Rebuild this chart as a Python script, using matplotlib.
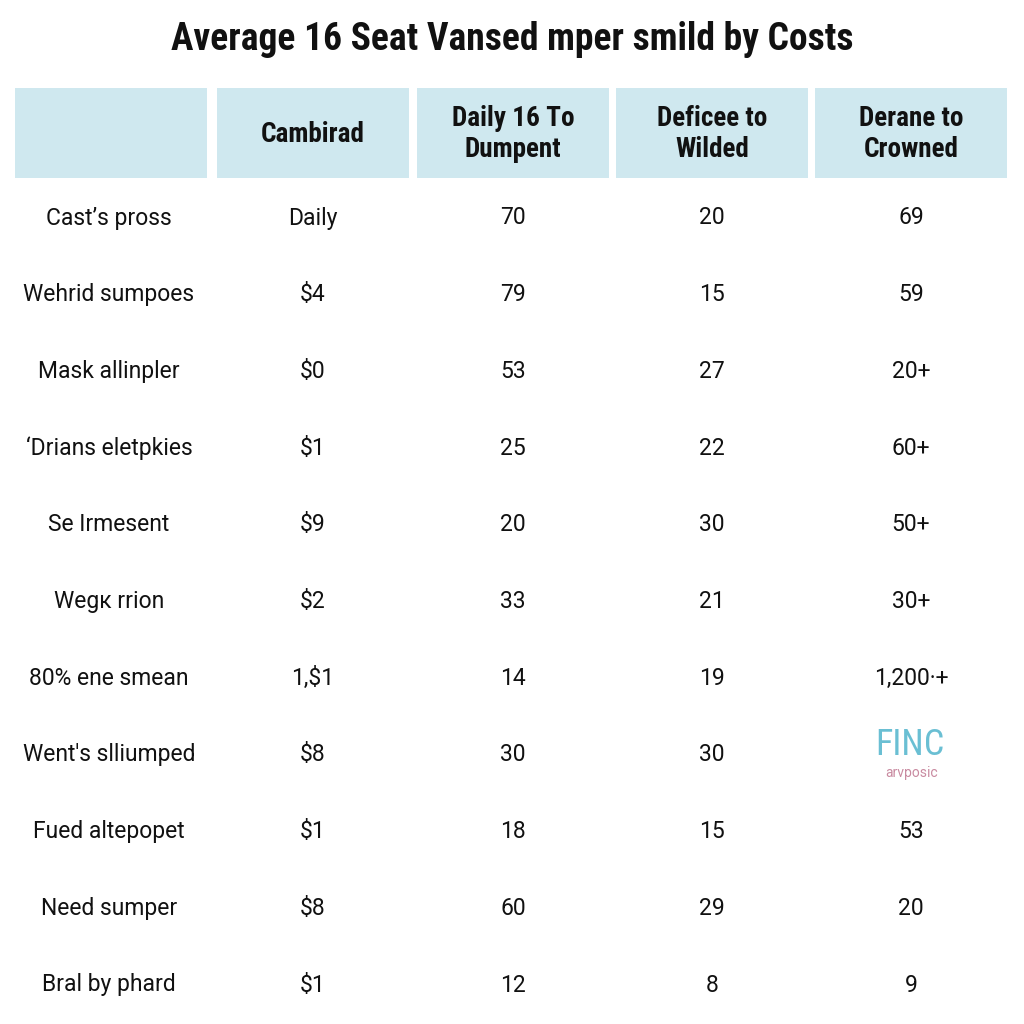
import matplotlib
matplotlib.use("Agg")
import matplotlib.pyplot as plt
from matplotlib.patches import Rectangle

title = "Average 16 Seat Vansed mper smild by Costs"

headers = ["", "Cambirad", "Daily 16 To\nDumpent", "Deficee to\nWilded", "Derane to\nCrowned"]

row_labels = ["Cast\u2019s pross", "Wehrid sumpoes", "Mask allinpler", "\u2018Drians eletpkies",
              "Se Irmesent", "Wegк rrion", "80% ene smean", "Went's slliumped",
              "Fued altepopet", "Need sumper", "Bral by phard"]
cambirad = ["Daily", "$4", "$0", "$1", "$9", "$2", "1,$1", "$8", "$1", "$8", "$1"]
dumpent = ["70", "79", "53", "25", "20", "33", "14", "30", "18", "60", "12"]
wilded = ["20", "15", "27", "22", "30", "21", "19", "30", "15", "29", "8"]
crowned = ["69", "59", "20+", "60+", "50+", "30+", "1,200\u00b7+", "", "53", "20", "9"]

columns = [row_labels, cambirad, dumpent, wilded, crowned]

# layout in pixels
col_left = [15, 217, 417, 616, 815]
col_width = 192
header_top, header_h = 88, 90
first_row_y, row_step = 218, 76.7

fig = plt.figure(figsize=(10.24, 10.24), dpi=100)
ax = fig.add_axes([0, 0, 1, 1])
ax.set_xlim(0, 1024)
ax.set_ylim(1024, 0)
ax.axis("off")

body_font = ["Roboto", "DejaVu Sans"]
head_font = ["Liberation Sans Narrow", "Roboto Condensed", "Roboto", "DejaVu Sans"]

ax.text(512, 39, title, ha="center", va="center", fontsize=27, fontweight="bold",
        family=head_font, color="#111111")

for left, head in zip(col_left, headers):
    ax.add_patch(Rectangle((left, header_top), col_width, header_h,
                           facecolor="#cfe8ef", edgecolor="none"))
    ax.text(left + col_width / 2, header_top + header_h / 2 + 1, head, ha="center", va="center",
            fontsize=19.5, fontweight="bold", family=head_font, color="#111111",
            linespacing=1.2)

for left, values in zip(col_left, columns):
    cx = left + col_width / 2 + (-2 if left == 15 else 0)
    for i, v in enumerate(values):
        ax.text(cx, first_row_y + i * row_step, v, ha="center", va="center",
                fontsize=16.5, family=body_font, color="#111111")

# faded logo in place of the missing cell
ax.text(910, 745, "FINC", ha="center", va="center", fontsize=26, family=head_font,
        color="#5ab8cf", alpha=0.9)
ax.text(912, 773, "arvposic", ha="center", va="center", fontsize=10, family=body_font,
        color="#c98aa0")

fig.savefig("out.png", dpi=100, facecolor="white")
